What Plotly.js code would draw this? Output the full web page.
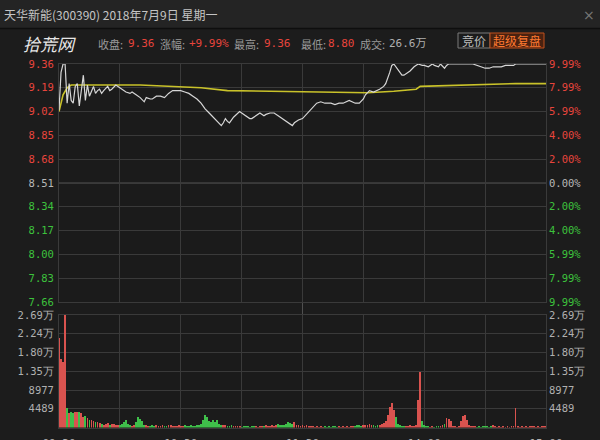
<!DOCTYPE html>
<html><head><meta charset="utf-8">
<script src="https://cdn.plot.ly/plotly-3.0.1.min.js"></script>
<style>html,body{margin:0;padding:0;background:#1c1c1c;}#chart{width:600px;height:440px;}</style>
</head><body><div id="chart"></div>
<script>
// ---------- data ----------
const stockTitle = '天华新能(300390) 2018年7月9日 星期一';
const prevClose = 8.51;
const closePrice = '9.36';
const changePct = '+9.99%';
const highPrice = '9.36';
const lowPrice = '8.80';
const turnover = '26.6万';

// [minute index from 09:30, price]
const pricePoints = [[0,9.03],[1,9.30],[2,9.36],[3,9.36],[4,9.08],[5,9.22],[6,9.10],[7,9.08],[8,9.20],[9,9.22],
[10,9.06],[11,9.18],[12,9.28],[13,9.10],[14,9.21],[15,9.13],[16,9.17],[17,9.20],[18,9.15],[19,9.17],
[20,9.18],[21,9.15],[22,9.17],[24,9.20],[25,9.17],[26,9.18],[28,9.21],[30,9.19],[32,9.17],[33,9.16],
[35,9.15],[36,9.16],[38,9.14],[40,9.12],[42,9.09],[43,9.12],[45,9.11],[46,9.11],[48,9.13],[50,9.13],
[52,9.12],[54,9.15],[56,9.17],[58,9.17],[60,9.17],[62,9.16],[64,9.15],[66,9.13],[68,9.11],[70,9.08],
[72,9.04],[74,9.01],[76,8.98],[78,8.95],[80,8.92],[81,8.94],[82,8.97],[83,8.95],[84,8.94],[86,8.98],
[88,9.01],[89,9.02],[90,9.01],[92,8.99],[94,8.97],[95,8.97],[97,8.99],[99,9.01],[101,8.99],[102,9.00],
[104,9.01],[106,9.01],[108,8.99],[110,8.97],[112,8.95],[114,8.93],[115,8.92],[116,8.94],[118,8.96],[120,8.97],
[122,9.00],[124,9.03],[126,9.06],[127,9.08],[129,9.09],[131,9.08],[134,9.08],[136,9.07],[138,9.08],[140,9.08],
[143,9.10],[146,9.08],[148,9.08],[150,9.11],[151,9.14],[153,9.17],[155,9.16],[158,9.18],[160,9.20],[161,9.22],
[163,9.30],[164,9.35],[165,9.36],[166,9.34],[167,9.32],[169,9.28],[170,9.28],[171,9.29],[173,9.31],[175,9.34],
[177,9.36],[179,9.35],[180,9.35],[182,9.34],[183,9.35],[184,9.36],[185,9.35],[187,9.34],[188,9.36],[190,9.33],
[191,9.35],[192,9.36],[204,9.36],[206,9.35],[208,9.34],[210,9.33],[212,9.33],[214,9.34],[216,9.34],[218,9.34],
[220,9.35],[222,9.35],[224,9.35],[225,9.36],[240,9.36]];

// [minute, average price]
const avgPoints = [[0,9.02],[1,9.09],[2,9.14],[4,9.19],[6,9.21],[40,9.21],[60,9.20],[70,9.19],[83,9.17],
[100,9.165],[118,9.16],[152,9.155],[165,9.165],[176,9.18],[178,9.20],[200,9.21],[225,9.22],[240,9.22]];

// volume per minute (shares)
const volumes = [
21400,16500,15800,26900,4600,3400,3800,3400,3800,3600,
3800,3400,2600,2800,2200,1800,1800,1600,1400,1200,
1000,800,600,900,1000,700,900,800,600,500,
700,900,1400,1900,800,500,400,500,1200,2400,
2000,1500,700,500,400,300,500,400,600,300,
400,500,300,400,600,500,300,400,300,500,
400,300,500,300,400,600,300,400,500,700,
900,1800,3000,2600,1500,1200,1800,1400,1700,900,
600,500,700,400,300,500,400,300,400,300,
200,300,400,300,200,300,400,300,200,300,
300,400,500,400,300,600,400,500,800,600,
700,500,900,1200,1000,800,1300,700,500,400,
500,400,600,300,400,300,200,300,200,300,
200,300,200,300,200,300,400,200,300,200,
300,200,300,200,300,400,300,500,600,400,
500,700,600,800,500,600,400,700,500,900,
1000,1500,3000,5000,5800,4200,2500,900,500,400,
300,400,300,500,400,300,600,6600,13400,1500,
500,400,300,200,300,200,300,400,300,500,
800,2200,2000,1500,400,300,200,300,1500,2800,
3000,1800,500,300,400,300,200,300,200,300,
400,300,200,300,700,300,200,300,200,300,
200,300,200,300,400,4600,300,200,300,200,
300,200,300,400,300,200,300,200,300,400,
300];

const priceTicks = [9.36,9.19,9.02,8.85,8.68,8.51,8.34,8.17,8.00,7.83,7.66];
const volTicks = [4489,8977,13466,17954,22443,26932];
const volTickLabels = ['4489','8977','1.35万','1.80万','2.24万','2.69万'];
const timeTicks = [0,30,60,90,120,150,180,210,240];
const timeLabels = ['09:30','','10:30','','11:30','','14:00','','15:00'];

// ---------- drawing ----------
const RED = '#e8453c', GREEN = '#3cc23c', NEUTRAL = '#b8b8b8';
const tickColor = p => Math.abs(p - prevClose) < 1e-6 ? NEUTRAL : (p > prevClose ? RED : GREEN);
const leftPriceText = priceTicks.map(p => `<span style="color:${tickColor(p)}">${p.toFixed(2)}</span>`);
const rightPctText = priceTicks.map(p => {
  const pct = Math.abs((p - prevClose) / prevClose * 100);
  return `<span style="color:${tickColor(p)}">${pct.toFixed(2)}%</span>`;
});

const minutes = volumes.map((_, i) => i);
function priceAt(m) {
  let v = pricePoints[0][1];
  for (const [t, p] of pricePoints) { if (t <= m) v = p; else break; }
  return v;
}
let lastCol = '#d9534f';
const volColors = minutes.map(m => {
  if (m === 0) return lastCol;
  const d = priceAt(m) - priceAt(m - 1);
  if (d > 0) lastCol = '#d9534f'; else if (d < 0) lastCol = '#3fbf4a';
  return lastCol;
});

const L = 59, R = 546, H = 440;
const px = v => (v - L) / (R - L);
const py = v => (H - v) / H;

const GRID = '#3a3a3a';
const axisFont = {family: 'DejaVu Sans Mono, monospace', size: 10.5, color: '#b0b0b0'};

const traces = [
  {x: avgPoints.map(p => p[0]), y: avgPoints.map(p => p[1]), type: 'scatter', mode: 'lines',
   line: {color: '#c9c22a', width: 1.6}, xaxis: 'x', yaxis: 'y', hoverinfo: 'skip'},
  {x: pricePoints.map(p => p[0]), y: pricePoints.map(p => p[1]), type: 'scatter', mode: 'lines',
   line: {color: '#d6d6d6', width: 1.2}, xaxis: 'x', yaxis: 'y', hoverinfo: 'skip'},
  {x: [0], y: [prevClose], type: 'scatter', mode: 'markers', opacity: 0, xaxis: 'x', yaxis: 'y3', hoverinfo: 'skip'},
  {x: minutes, y: volumes, type: 'bar', marker: {color: volColors, line: {width: 0}}, width: 0.9,
   xaxis: 'x2', yaxis: 'y2', hoverinfo: 'skip'},
  {x: [0], y: [0], type: 'scatter', mode: 'markers', opacity: 0, xaxis: 'x2', yaxis: 'y4', hoverinfo: 'skip'}
];

const priceDomain = [py(302), py(64)];
const volDomain = [py(427.5), py(315)];

const layout = {
  width: 600, height: 440,
  margin: {l: L, r: 600 - R, t: 0, b: 0, pad: 0},
  paper_bgcolor: '#1c1c1c', plot_bgcolor: '#1b1b1b',
  showlegend: false, bargap: 0,
  xaxis: {domain: [0, 1], range: [0, 240], anchor: 'y', tickvals: timeTicks, showticklabels: false,
          showgrid: true, gridcolor: GRID, gridwidth: 1, zeroline: false, showline: true, linecolor: GRID, mirror: true, ticks: ''},
  yaxis: {domain: priceDomain, range: [7.66, 9.36], anchor: 'x', tickvals: priceTicks, ticktext: leftPriceText,
          showgrid: true, gridcolor: GRID, zeroline: false, showline: true, linecolor: GRID, mirror: true,
          ticks: '', tickfont: axisFont, ticklabelstandoff: 2},
  yaxis3: {overlaying: 'y', side: 'right', range: [7.66, 9.36], anchor: 'x', tickvals: priceTicks, ticktext: rightPctText,
           showgrid: false, zeroline: false, ticks: '', tickfont: axisFont, ticklabelstandoff: 2},
  xaxis2: {domain: [0, 1], range: [0, 240], anchor: 'y2', tickvals: timeTicks, ticktext: timeLabels,
           showgrid: true, gridcolor: GRID, zeroline: false, showline: true, linecolor: GRID, mirror: true,
           ticks: '', tickfont: {family: 'DejaVu Sans Mono, monospace', size: 11, color: '#b0b0b0'}, ticklabelstandoff: 5},
  yaxis2: {domain: volDomain, range: [0, 26932], anchor: 'x2', tickvals: volTicks, ticktext: volTickLabels,
           showgrid: true, gridcolor: GRID, zeroline: false, showline: true, linecolor: GRID, mirror: true,
           ticks: '', tickfont: axisFont, ticklabelstandoff: 2},
  yaxis4: {overlaying: 'y2', side: 'right', range: [0, 26932], anchor: 'x2', tickvals: volTicks, ticktext: volTickLabels,
           showgrid: false, zeroline: false, ticks: '', tickfont: axisFont, ticklabelstandoff: 2},
  shapes: [
    {type: 'rect', xref: 'paper', yref: 'paper', x0: px(0), x1: px(600), y0: py(28), y1: py(0),
     fillcolor: '#242424', line: {width: 0}, layer: 'below'},
    {type: 'line', xref: 'paper', yref: 'paper', x0: px(0), x1: px(600), y0: py(28.5), y1: py(28.5),
     line: {color: '#0e0e0e', width: 1.5}},
    {type: 'line', xref: 'x', yref: 'y', x0: 0, x1: 240, y0: prevClose, y1: prevClose,
     line: {color: '#555555', width: 1}, layer: 'below'},
    {type: 'line', xref: 'x', yref: 'paper', x0: 120, x1: 120, y0: volDomain[0], y1: priceDomain[1],
     line: {color: '#505050', width: 1}, layer: 'below'},
    {type: 'rect', xref: 'paper', yref: 'paper', x0: px(458), x1: px(490), y0: py(48), y1: py(33),
     fillcolor: 'rgba(0,0,0,0)', line: {color: '#7a7a7a', width: 1}},
    {type: 'rect', xref: 'paper', yref: 'paper', x0: px(490), x1: px(544), y0: py(48), y1: py(33),
     fillcolor: '#4a2210', line: {color: '#c0501c', width: 1}}
  ],
  annotations: [
    {xref: 'paper', yref: 'paper', x: px(2), y: py(15), xanchor: 'left', yanchor: 'middle', showarrow: false,
     text: stockTitle, font: {family: 'Noto Sans CJK SC', size: 12, color: '#c4c4c4'}},
    {xref: 'paper', yref: 'paper', x: px(597), y: py(15), xanchor: 'right', yanchor: 'middle', showarrow: false,
     text: '×', font: {family: 'DejaVu Sans', size: 14, color: '#777'}},
    {xref: 'paper', yref: 'paper', x: px(21), y: py(43), xanchor: 'left', yanchor: 'middle', showarrow: false,
     text: '拾荒网', font: {family: 'Noto Sans CJK SC', size: 17, color: '#e6e6e6', style: 'italic'}},
    ...[['收盘:', 96, closePrice, 126, RED], ['涨幅:', 158, changePct, 187, RED], ['最高:', 232, highPrice, 262, RED],
        ['最低:', 299, lowPrice, 326, RED], ['成交:', 358, turnover, 387, '#b0b0b0']].flatMap(([lab, lx, val, vx, col]) => [
      {xref: 'paper', yref: 'paper', x: px(lx), y: py(44), xanchor: 'left', yanchor: 'middle', showarrow: false,
       text: lab, font: {family: 'Noto Sans CJK SC', size: 11, color: '#9a9a9a'}},
      {xref: 'paper', yref: 'paper', x: px(vx), y: py(44), xanchor: 'left', yanchor: 'middle', showarrow: false,
       text: val, font: {family: 'DejaVu Sans Mono, Noto Sans CJK SC', size: 11, color: col}}
    ]),
    {xref: 'paper', yref: 'paper', x: px(474), y: py(40.5), xanchor: 'center', yanchor: 'middle', showarrow: false,
     text: '竞价', font: {family: 'Noto Sans CJK SC', size: 12, color: '#bdbdbd'}},
    {xref: 'paper', yref: 'paper', x: px(517), y: py(40.5), xanchor: 'center', yanchor: 'middle', showarrow: false,
     text: '超级复盘', font: {family: 'Noto Sans CJK SC', size: 12, color: '#ff7a30'}}
  ]
};

Plotly.newPlot('chart', traces, layout, {staticPlot: true, displayModeBar: false});
</script></body></html>
